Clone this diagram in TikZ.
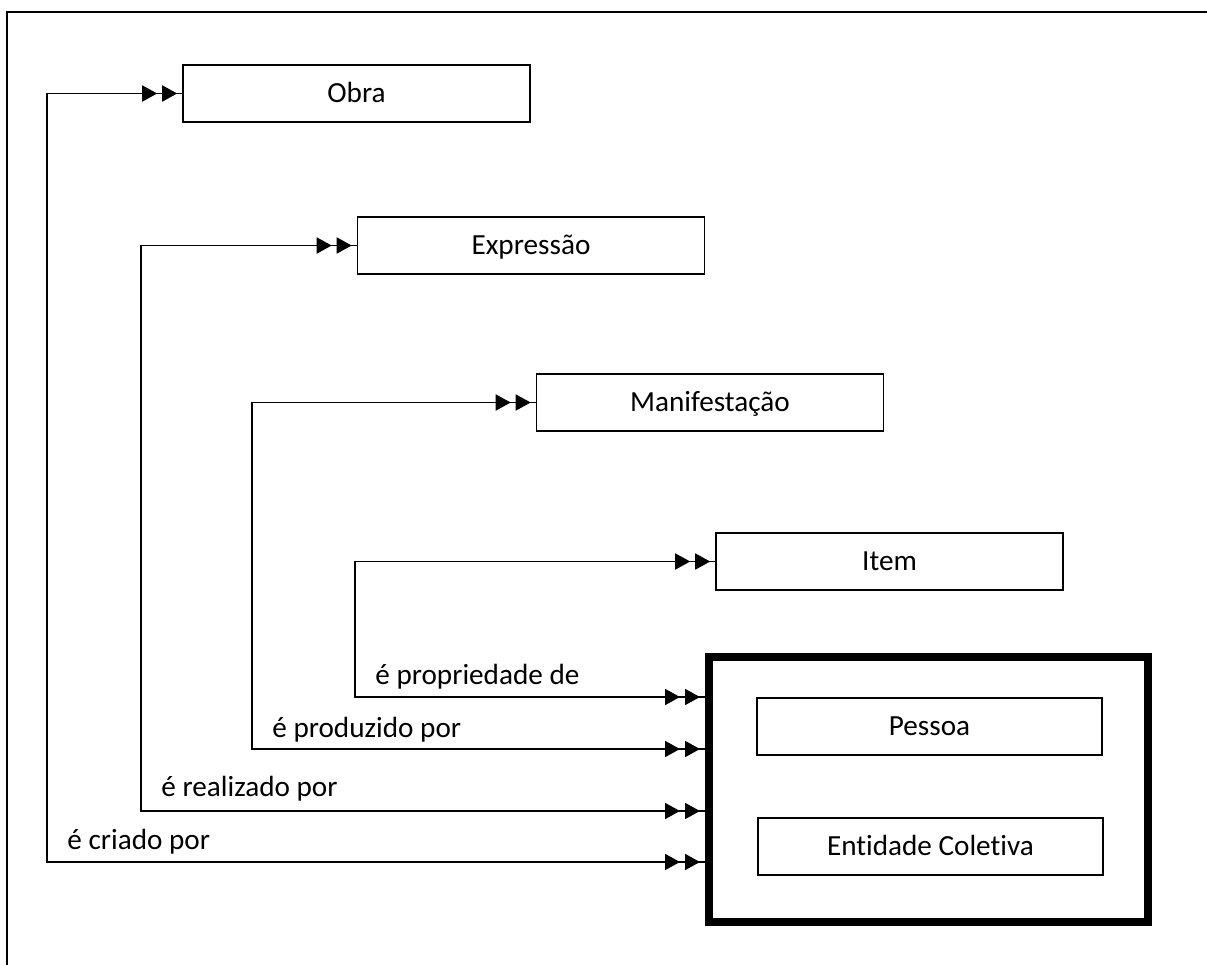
\documentclass[tikz,border=0pt]{standalone}
\usepackage{fontspec}
\setmainfont{Carlito}[Ligatures=NoCommon]
\usetikzlibrary{arrows.meta}
\tikzset{
  entidade/.style={draw, line width=0.8pt, minimum width=173.5pt, minimum height=28.5pt, inner sep=0pt, text height=9.4pt, text depth=0pt},
  grupo/.style={draw, line width=4pt, minimum width=219.5pt, minimum height=132.5pt},
  rotulo/.style={anchor=base west, inner sep=0pt},
  dupla/.style={<<->>, line width=0.9pt, preaction={draw, -, line width=0.9pt}},
}
\begin{document}
\begin{tikzpicture}[x=0.5pt, y=-0.5pt, >={Triangle[length=7.5pt,width=8pt,sep=2.5pt]}, font={\fontsize{14.6}{17}\selectfont}]
\useasboundingbox (0,0) rectangle (1207,965);
\draw[line width=0.9pt] (7,965) -- (7,12) -- (1207,12);
\node[entidade] (obra) at (356.5,93.5) {Obra};
\node[entidade] (expressao) at (531,245.5) {Expressão};
\node[entidade] (manifestacao) at (710,402.5) {Manifestação};
\node[entidade] (item) at (889.5,561.5) {Item};
\node[grupo] (agente) at (928.5,789.5) {};
\node[entidade, minimum width=172.5pt] (pessoa) at (929.5,726.5) {Pessoa};
\node[entidade, minimum width=172.5pt] (coletiva) at (930.5,846.5) {Entidade Coletiva};
\coordinate (b1) at (47,862);
\coordinate (b2) at (141,811);
\coordinate (b3) at (252,749);
\coordinate (b4) at (355,697);
\draw[dupla] (obra.west) -| (b1) -- (b1 -| agente.west);
\draw[dupla] (expressao.west) -| (b2) -- (b2 -| agente.west);
\draw[dupla] (manifestacao.west) -| (b3) -- (b3 -| agente.west);
\draw[dupla] (item.west) -| (b4) -- (b4 -| agente.west);
\node[rotulo] (criado) at (67,849) {é criado por};
\node[rotulo] (realizado) at (161,796) {é realizado por};
\node[rotulo] (produzido) at (272,737) {é produzido por};
\node[rotulo] (propriedade) at (375,684) {é propriedade de};
\end{tikzpicture}
\end{document}
